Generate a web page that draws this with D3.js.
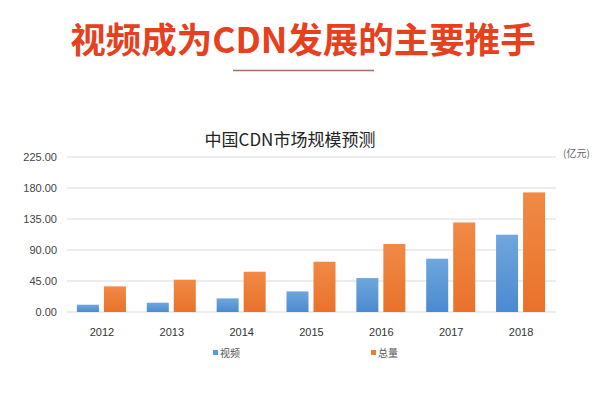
<!DOCTYPE html>
<html><head><meta charset="utf-8">
<script src="https://cdn.jsdelivr.net/npm/d3@7"></script>
<style>body{margin:0;background:#fff}svg{display:block}</style>
</head><body>
<script>
const years = ["2012","2013","2014","2015","2016","2017","2018"];
const video = [10.6, 13.5, 19.8, 29.9, 49.3, 77.4, 112.2];
const total = [37.2, 46.9, 58.5, 73.0, 98.7, 130.0, 173.6];
const seriesNames = ["视频","总量"];
const yTicks = [0, 45, 90, 135, 180, 225];

const W=600,H=400;
const svg=d3.select("body").append("svg").attr("width",W).attr("height",H);
const defs=svg.append("defs");
function grad(id,c1,c2){const g=defs.append("linearGradient").attr("id",id).attr("x1",0).attr("y1",0).attr("x2",0).attr("y2",1);
g.append("stop").attr("offset","0%").attr("stop-color",c1);g.append("stop").attr("offset","100%").attr("stop-color",c2);}
grad("gb","#6fa7dd","#4a8ad0");
grad("go","#f08a45","#e9722a");

svg.append("text").attr("x",303).attr("y",53).attr("text-anchor","middle")
 .attr("font-family","Noto Sans CJK SC").attr("font-weight","bold").attr("font-size",35.5)
 .attr("fill","#e6401e").text("视频成为CDN发展的主要推手");
svg.append("line").attr("x1",233).attr("x2",374).attr("y1",70.5).attr("y2",70.5).attr("stroke","#a0705e").attr("stroke-width",1.5);

svg.append("text").attr("x",290).attr("y",146).attr("text-anchor","middle")
 .attr("font-family","Noto Sans CJK SC").attr("font-size",17).attr("fill","#222").text("中国CDN市场规模预测");

const x0=d3.scaleBand().domain(years).range([67,556]);
const y=d3.scaleLinear().domain([0,225]).range([312,157]);

const gy=svg.append("g");
yTicks.forEach(t=>{
 gy.append("line").attr("x1",67).attr("x2",556).attr("y1",y(t)).attr("y2",y(t)).attr("stroke","#d9d9d9").attr("stroke-width",1);
 gy.append("text").attr("x",57).attr("y",y(t)+4).attr("text-anchor","end").attr("font-family","Liberation Sans, Arial").attr("font-size",11).attr("fill","#444").text(t.toFixed(2));
});
svg.append("text").attr("x",563).attr("y",157).attr("font-family","Noto Sans CJK SC").attr("font-size",10).attr("fill","#666").text("(亿元)");

const bw=22;
years.forEach((yr,i)=>{
 const c=x0(yr)+x0.bandwidth()/2;
 svg.append("rect").attr("x",c-25).attr("width",bw).attr("y",y(video[i])).attr("height",y(0)-y(video[i])).attr("fill","url(#gb)");
 svg.append("rect").attr("x",c+2).attr("width",bw).attr("y",y(total[i])).attr("height",y(0)-y(total[i])).attr("fill","url(#go)");
 svg.append("text").attr("x",c).attr("y",336).attr("text-anchor","middle").attr("font-family","Liberation Sans, Arial").attr("font-size",11).attr("fill","#333").text(yr);
});

const leg=[{n:seriesNames[0],c:"#5b9bd5",x:213},{n:seriesNames[1],c:"#ed7d31",x:371}];
leg.forEach(l=>{
 svg.append("rect").attr("x",l.x).attr("y",350).attr("width",5).attr("height",5).attr("fill",l.c);
 svg.append("text").attr("x",l.x+7).attr("y",357).attr("font-family","Noto Sans CJK SC").attr("font-size",10).attr("fill","#555").text(l.n);
});
</script>
</body></html>
